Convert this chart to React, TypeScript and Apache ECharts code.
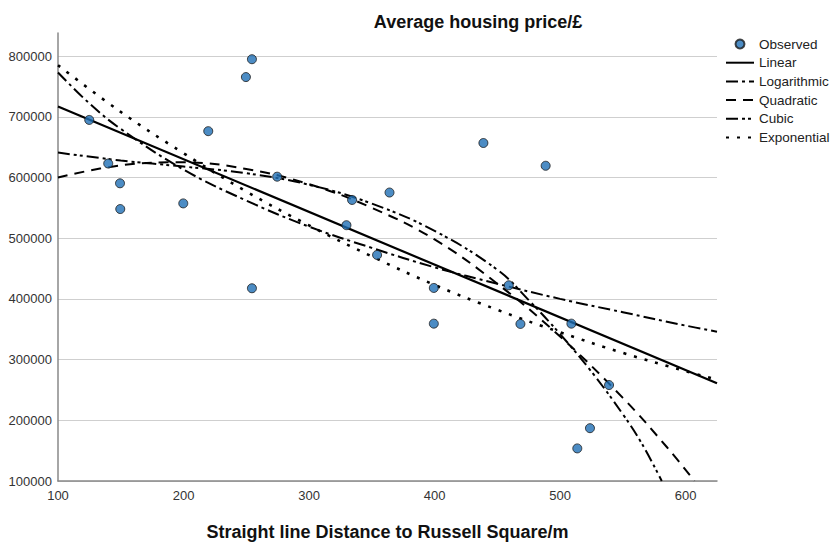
import React, { useEffect, useRef } from "react";
import * as echarts from "echarts";

const xTicks = [100, 200, 300, 400, 500, 600];
const yTicks = [100000, 200000, 300000, 400000, 500000, 600000, 700000, 800000];

const observed: [number, number][] = [
  [124.9, 694800], [140, 623000], [149.4, 590400], [149.6, 548000], [199.8, 557300],
  [219.7, 676300], [249.7, 765400], [254.5, 794800], [254.5, 417500], [274.6, 601300],
  [329.8, 521400], [334.3, 563000], [354.2, 472400], [364.1, 575200], [399.4, 418000],
  [399.4, 359200], [438.9, 656800], [459.1, 422400], [468.4, 358700], [488.5, 619300],
  [509, 359200], [513.7, 153700], [523.8, 187000], [539, 258100],
];

const linear: [number, number][] = [[100, 717000], [625, 261000]];

const logarithmic: [number, number][] = [
  [100, 773000], [125, 722000], [150, 680000], [200, 613000], [250, 562000], [300, 519000],
  [350, 484000], [400, 452000], [450, 425000], [500, 400000], [550, 378000], [600, 356000], [625, 346000],
];

const quadratic: [number, number][] = [
  [100, 600000], [150, 620000], [200, 625000], [250, 614000], [300, 589000], [350, 550000],
  [400, 498000], [450, 425000], [500, 338000], [550, 237000], [585, 156000], [607, 100000],
];

const cubic: [number, number][] = [
  [100, 641000], [150, 628000], [200, 618000], [250, 607000], [300, 588000], [350, 557000],
  [400, 512000], [450, 448000], [475, 398000], [500, 342000], [525, 280000], [550, 210000],
  [565, 162000], [581, 100000],
];

const exponential: [number, number][] = [
  [100, 785000], [150, 708000], [200, 640000], [250, 577000], [300, 521000], [350, 470000],
  [400, 423000], [450, 382000], [500, 345000], [550, 311000], [600, 281000], [625, 267000],
];

const FONT = "'Liberation Sans', Arial, sans-serif";

export default function App() {
  const ref = useRef<HTMLDivElement>(null);
  useEffect(() => {
    document.body.style.margin = "0";
    if (!ref.current) return;
    const chart = echarts.init(ref.current, undefined, { renderer: "svg" });
    const lineSeries = (name: string, data: [number, number][], type: any, width = 2) => ({
      name,
      type: "line",
      data,
      smooth: 0.4,
      showSymbol: false,
      symbol: "none",
      lineStyle: { color: "#000", width, type },
      itemStyle: { color: "#000" },
      z: 2,
    });
    const lineLegend = (name: string) => ({ name, itemStyle: { opacity: 0 } });
    chart.setOption({
      animation: false,
      textStyle: { fontFamily: FONT },
      title: {
        text: "Average housing price/£",
        left: 473,
        top: 8,
        textAlign: "center",
        textStyle: { fontFamily: FONT, fontSize: 18, fontWeight: "bold", color: "#111" },
      },
      legend: {
        orient: "vertical",
        left: 720,
        top: 32,
        itemWidth: 28,
        itemHeight: 9,
        itemGap: 4.7,
        textStyle: { fontFamily: FONT, fontSize: 13.5, color: "#222" },
        data: [
          { name: "Observed", icon: "circle" },
          lineLegend("Linear"),
          lineLegend("Logarithmic"),
          lineLegend("Quadratic"),
          lineLegend("Cubic"),
          lineLegend("Exponential"),
        ],
      },
      grid: { left: 58, right: 116, top: 33, bottom: 60.5 },
      xAxis: {
        type: "value",
        min: xTicks[0],
        max: 625,
        interval: 100,
        name: "Straight line Distance to Russell Square/m",
        nameLocation: "middle",
        nameGap: 42,
        nameTextStyle: { fontFamily: FONT, fontSize: 18, fontWeight: "bold", color: "#111" },
        axisLine: { show: true, lineStyle: { color: "#888", width: 1.5 } },
        axisTick: { show: false },
        splitLine: { show: false },
        axisLabel: {
          fontFamily: FONT,
          fontSize: 13,
          color: "#333",
          margin: 8,
          showMaxLabel: false,
          formatter: (v: number) => (xTicks.includes(v) ? String(v) : ""),
        },
      },
      yAxis: {
        type: "value",
        min: yTicks[0],
        max: 838000,
        interval: 100000,
        axisLine: { show: true, lineStyle: { color: "#888", width: 1.5 } },
        axisTick: { show: false },
        splitLine: { show: true, showMaxLine: false, lineStyle: { color: "#cfcfcf", width: 1.2 } },
        axisLabel: {
          fontFamily: FONT,
          fontSize: 13,
          color: "#333",
          margin: 6,
          showMaxLabel: false,
          formatter: (v: number) => (yTicks.includes(v) ? String(v) : ""),
        },
      },
      series: [
        {
          name: "Observed",
          type: "scatter",
          data: observed,
          symbol: "circle",
          symbolSize: 9,
          itemStyle: { color: "#1f6fb5", borderColor: "#1b1b1b", borderWidth: 1 },
          z: 3,
        },
        lineSeries("Linear", linear, "solid", 2.2),
        lineSeries("Logarithmic", logarithmic, [12, 4, 3, 4]),
        lineSeries("Quadratic", quadratic, [10, 7]),
        lineSeries("Cubic", cubic, [12, 4, 3, 3, 3, 4]),
        lineSeries("Exponential", exponential, [3, 8], 2.6),
      ],
    });
    return () => chart.dispose();
  }, []);
  return <div ref={ref} style={{ width: 833, height: 546 }} />;
}
